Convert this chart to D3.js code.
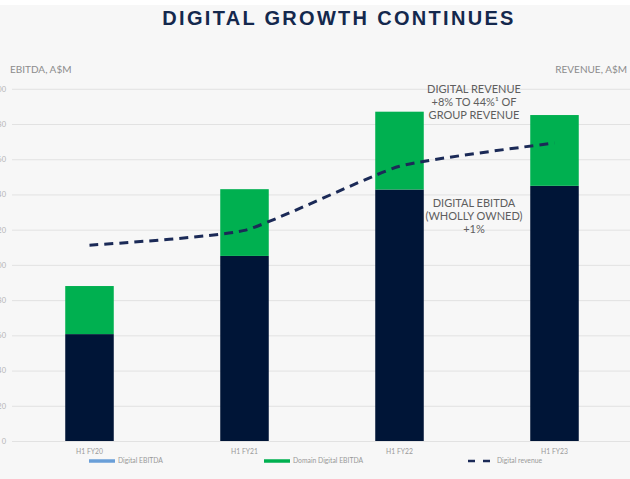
<!DOCTYPE html>
<html>
<head>
<meta charset="utf-8">
<script src="https://cdn.jsdelivr.net/npm/d3@7"></script>
<style>
  body { margin: 0; background: #f7f7f7; }
  svg { display: block; }
  text { font-family: Lato, "Open Sans", sans-serif; }
</style>
</head>
<body>
<div id="chart"></div>
<script>
// half-year periods
const periods = ["H1 FY20", "H1 FY21", "H1 FY22", "H1 FY23"];
// EBITDA, A$M (left axis)
const digitalEbitda = [60.7, 105.1, 142.8, 144.9];
const domainEbitda = [27.3, 37.9, 44.2, 40.2];
// Revenue, A$M (right axis)
const digitalRevenue = [278, 299, 390, 423];
const leftTicks = [0, 20, 40, 60, 80, 100, 120, 140, 160, 180, 200];

const W = 630, H = 479;

const svg = d3.select("#chart")
  .append("svg")
  .attr("width", W)
  .attr("height", H);

svg.append("rect").attr("width", W).attr("height", H).attr("fill", "#f7f7f7");
svg.append("rect").attr("width", W).attr("height", 5).attr("fill", "#ffffff");

// title
svg.append("text")
  .attr("x", 339)
  .attr("y", 25)
  .attr("text-anchor", "middle")
  .style("font-family", "'Liberation Sans', Arial, sans-serif")
  .style("font-weight", "bold")
  .style("font-size", "20px")
  .style("letter-spacing", "2.3px")
  .attr("fill", "#14284d")
  .text("DIGITAL GROWTH CONTINUES");

// scales
const x = d3.scaleBand()
  .domain(periods)
  .range([12, 632])
  .paddingInner(0.687)
  .paddingOuter(0.3435);

const y = d3.scaleLinear().domain([0, 200]).range([441, 88.8]);
// right axis scale (its labels sit off the slide)
const yR = d3.scaleLinear().domain([0, 500]).range([441, 88.8]);

// gridlines + left axis (labels run off the left edge like the slide)
const leftAxis = d3.axisLeft(y).tickValues(leftTicks).tickSize(-(W - 12)).tickPadding(6);
const gL = svg.append("g").attr("transform", "translate(12,0)").call(leftAxis);
gL.select(".domain").remove();
gL.selectAll(".tick line").attr("stroke", "#e2e2e2").attr("stroke-width", 1);
gL.selectAll(".tick text")
  .attr("fill", "#b5b5b5")
  .style("font-size", "7.5px");

// axis titles
svg.append("text")
  .attr("x", 10).attr("y", 73)
  .attr("fill", "#8c8c8c")
  .style("font-size", "10px")
  .text("EBITDA, A$M");

svg.append("text")
  .attr("x", 627).attr("y", 73)
  .attr("text-anchor", "end")
  .attr("fill", "#8c8c8c")
  .style("font-size", "10px")
  .text("REVENUE, A$M");

// stacked bars
const stackData = periods.map((p, i) => ({ period: p, digital: digitalEbitda[i], domain: domainEbitda[i] }));
const series = d3.stack().keys(["digital", "domain"])(stackData);
const barColors = { digital: "#001537", domain: "#00b050" };

svg.selectAll("g.layer")
  .data(series)
  .enter()
  .append("g")
  .attr("class", "layer")
  .attr("fill", (d) => barColors[d.key])
  .selectAll("rect")
  .data((d) => d)
  .enter()
  .append("rect")
  .attr("x", (d) => x(d.data.period))
  .attr("width", x.bandwidth())
  .attr("y", (d) => y(d[1]))
  .attr("height", (d) => y(d[0]) - y(d[1]));

// revenue line
const line = d3.line()
  .x((d, i) => x(periods[i]) + x.bandwidth() / 2)
  .y((d) => yR(d))
  .curve(d3.curveCardinal.tension(0.5));

svg.append("path")
  .datum(digitalRevenue)
  .attr("d", line)
  .attr("fill", "none")
  .attr("stroke", "#1b2a57")
  .attr("stroke-width", 3)
  .attr("stroke-dasharray", "9,6");

// annotations
const noteStyle = (sel) => sel
  .attr("text-anchor", "middle")
  .attr("fill", "#5e5e5e")
  .style("font-size", "11px");

const revNote = ["DIGITAL REVENUE", "+8% TO 44%\u00B9 OF", "GROUP REVENUE"];
svg.append("g").selectAll("text")
  .data(revNote)
  .enter()
  .append("text")
  .attr("x", 474)
  .attr("y", (d, i) => 93 + i * 13)
  .call(noteStyle)
  .text((d) => d);

const ebitdaNote = ["DIGITAL EBITDA", "(WHOLLY OWNED)", "+1%"];
svg.append("g").selectAll("text")
  .data(ebitdaNote)
  .enter()
  .append("text")
  .attr("x", 474)
  .attr("y", (d, i) => 207 + i * 13)
  .call(noteStyle)
  .text((d) => d);

// category labels
svg.append("g").selectAll("text")
  .data(periods)
  .enter()
  .append("text")
  .attr("x", (d) => x(d) + x.bandwidth() / 2)
  .attr("y", 454)
  .attr("text-anchor", "middle")
  .attr("fill", "#999999")
  .style("font-size", "6.8px")
  .text((d) => d);

// legend
const legend = [
  { name: "Digital EBITDA", color: "#6a9fd8", dashed: false, x: 89 },
  { name: "Domain Digital EBITDA", color: "#00b050", dashed: false, x: 264 },
  { name: "Digital revenue", color: "#1b2a57", dashed: true, x: 468 }
];
const lg = svg.append("g").selectAll("g")
  .data(legend)
  .enter()
  .append("g")
  .attr("transform", (d) => `translate(${d.x},461)`);

lg.append("line")
  .attr("x1", 0).attr("x2", (d) => d.dashed ? 22 : 26)
  .attr("stroke", (d) => d.color)
  .attr("stroke-width", (d) => d.dashed ? 2.5 : 3.5)
  .attr("stroke-dasharray", (d) => d.dashed ? "7,8" : null);

lg.append("text")
  .attr("x", (d) => d.dashed ? 29 : 29)
  .attr("y", 2.4)
  .attr("fill", "#999999")
  .style("font-size", "6.8px")
  .text((d) => d.name);
</script>
</body>
</html>
